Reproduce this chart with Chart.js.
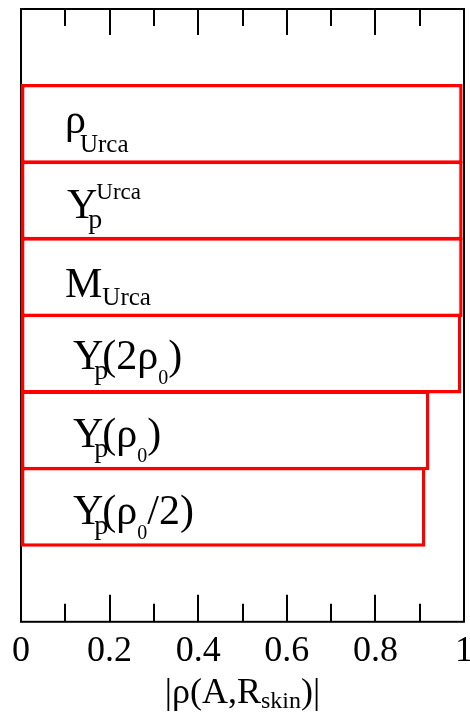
<!DOCTYPE html>
<html>
<head>
<meta charset="utf-8">
<script src="https://cdn.jsdelivr.net/npm/chart.js@4"></script>
<style>
  html, body { margin: 0; padding: 0; background: #fff; }
  #wrap { width: 470px; height: 713px; }
</style>
</head>
<body>
<div id="wrap"><canvas id="myChart"></canvas></div>
<script>
// categories, top to bottom (markup: _{..} subscript, ^{..} superscript)
const categories = ['ρ_{Urca}', 'Y_{p}^{Urca}', 'M_{Urca}', 'Y_{p}(2ρ_{0})', 'Y_{p}(ρ_{0})', 'Y_{p}(ρ_{0}/2)'];
// |rho(A, R_skin)|
const values = [0.997, 0.997, 0.997, 0.994, 0.922, 0.913];
const xTickLabels = ['0', '0.2', '0.4', '0.6', '0.8', '1'];
const xTitle = '|ρ(A,R_{skin})|';

const FONT = '"Liberation Serif", "Times New Roman", serif';

// label placement inside each bar (style only)
const labelX = [44, 46, 44, 52, 52, 52];     // from left edge of plot
const labelBase = [9, 17, 20, 15, 17, 17];   // baseline below bar centre

function parse(s) {
    let out = [];
    let buf = '';
    let i = 0;
    while (i < s.length) {
        let c = s[i];
        if (c === '_' || c === '^') {
            if (buf) { out.push({ t: buf, k: 'n' }); buf = ''; }
            let end = s.indexOf('}', i);
            out.push({ t: s.slice(i + 2, end), k: c === '_' ? 'sub' : 'sup' });
            i = end + 1;
        } else {
            buf += c;
            i++;
        }
    }
    if (buf) out.push({ t: buf, k: 'n' });
    return out;
}

// lay out one rich label, returns pieces with x offsets
function layout(ctx, s, opt) {
    let pen = 0;
    let prev = '';
    let pieces = [];
    parse(s).forEach((seg) => {
        let size = opt.main, dy = 0, dx = 0, post = 0;
        if (seg.k === 'sub') {
            size = opt.subSize(seg.t);
            dy = opt.subDy(seg.t, prev);
            dx = opt.subKern(seg.t, prev);
            post = prev === 'Y' ? -6 : 0;
        } else if (seg.k === 'sup') {
            size = opt.supSize;
            dy = opt.supDy;
        }
        ctx.font = size + 'px ' + FONT;
        pieces.push({ t: seg.t, x: pen + dx, dy: dy, font: ctx.font });
        pen += dx + ctx.measureText(seg.t).width + post;
        prev = seg.t.slice(-1);
    });
    return { pieces: pieces, width: pen };
}

function drawRich(ctx, lay, x, y) {
    lay.pieces.forEach((p) => {
        ctx.font = p.font;
        ctx.fillText(p.t, x + p.x, y + p.dy);
    });
}

const barText = {
    main: 42,
    supSize: 23,
    supDy: -19,
    subSize: (t) => (t === '0' ? 20 : t === 'p' ? 28 : 25),
    subDy: (t, prev) => (t === 'p' ? 10 : t === '0' ? 15 : prev === 'ρ' ? 19 : 8),
    subKern: (t, prev) => (prev === 'Y' ? -9 : prev === 'ρ' && t.length > 1 ? -6 : 0),
};

const titleText = {
    main: 36,
    supSize: 24,
    supDy: -14,
    subSize: () => 24,
    subDy: () => 5,
    subKern: () => 0,
};

// frame + inward tick marks on top and bottom
const framePlugin = {
    id: 'frame',
    beforeDatasetsDraw(chart) {
        const { ctx, chartArea: a, scales: { x } } = chart;
        ctx.save();
        ctx.strokeStyle = '#000';
        ctx.lineWidth = 2;
        ctx.strokeRect(a.left, a.top, a.right - a.left, a.bottom - a.top);
        ctx.beginPath();
        for (let i = 1; i < 10; i++) {
            let px = Math.round(x.getPixelForValue(i / 10));
            let len = i % 2 === 0 ? 27 : 18;
            ctx.moveTo(px, a.bottom);
            ctx.lineTo(px, a.bottom - len);
            ctx.moveTo(px, a.top);
            ctx.lineTo(px, a.top + len - 1);
        }
        ctx.stroke();
        ctx.restore();
    },
    afterDatasetsDraw(chart) {
        const { ctx, chartArea: a } = chart;
        const meta = chart.getDatasetMeta(0);
        ctx.save();
        ctx.fillStyle = '#000';
        ctx.textBaseline = 'alphabetic';
        ctx.textAlign = 'left';
        categories.forEach((c, i) => {
            let bar = meta.data[i + 1];
            let lay = layout(ctx, c, barText);
            drawRich(ctx, lay, a.left + labelX[i], bar.y + labelBase[i]);
        });
        // axis title
        let lay = layout(ctx, xTitle, titleText);
        drawRich(ctx, lay, (a.left + a.right) / 2 - lay.width / 2, chart.height - 10);
        ctx.restore();
    },
};

const config = {
    type: 'bar',
    data: {
        labels: ['', ...categories, ''],
        datasets: [
            {
                data: [null, ...values, null],
                backgroundColor: '#fff',
                borderColor: '#ff0000',
                borderWidth: 3.5,
                borderSkipped: false,
                barPercentage: 1.04,
                categoryPercentage: 1,
            },
        ],
    },
    options: {
        indexAxis: 'y',
        responsive: true,
        maintainAspectRatio: false,
        animation: false,
        layout: { padding: { top: 9, left: 21, right: 6, bottom: 40 } },
        plugins: {
            legend: { display: false },
            tooltip: { enabled: false },
        },
        scales: {
            x: {
                min: 0,
                max: 1,
                grid: { display: false },
                border: { display: false },
                ticks: {
                    stepSize: 0.2,
                    color: '#000',
                    padding: 0,
                    maxRotation: 0,
                    font: { family: FONT, size: 36 },
                    callback: (v, i) => xTickLabels[i],
                },
                afterFit(scale) {
                    scale.paddingLeft = 0;
                    scale.paddingRight = 0;
                },
            },
            y: { display: false },
        },
    },
    plugins: [framePlugin],
};

const myChart = new Chart(document.getElementById('myChart'), config);
</script>
</body>
</html>
